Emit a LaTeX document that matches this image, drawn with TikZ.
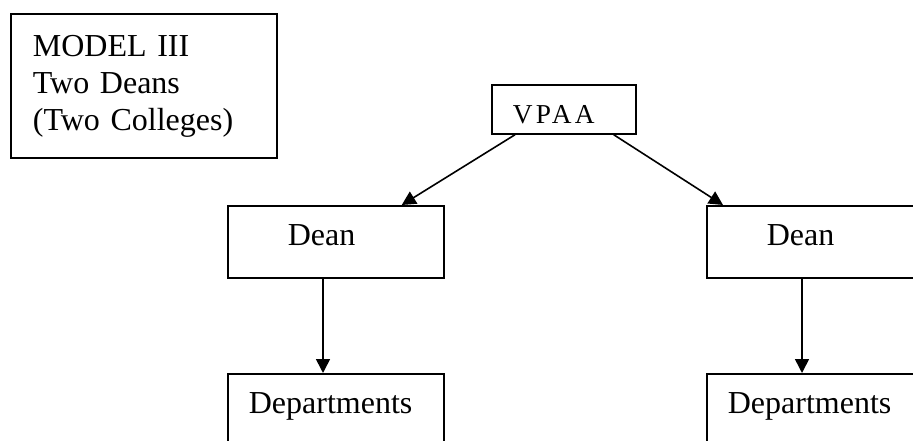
\documentclass[tikz,border=0pt]{standalone}
\usepackage{fontspec}
\setmainfont{Liberation Serif}
\usetikzlibrary{arrows.meta}

\tikzset{
  orgbox/.style={draw, line width=1.3pt, anchor=north west, inner ysep=0pt, align=left,
    font=\fontsize{24pt}{27.75pt}\selectfont},
  deanbox/.style={orgbox, minimum width=162pt, minimum height=54pt, inner xsep=45pt,
    text width=72pt, text height=15pt, text depth=9pt},
  deptbox/.style={orgbox, minimum width=162pt, minimum height=54pt, inner xsep=15.75pt,
    text width=130.5pt, text height=15pt, text depth=9pt},
  orgarrow/.style={line width=1.2pt, -{Triangle[length=10.5pt,width=10.5pt]}}
}

\begin{document}
\begin{tikzpicture}[x=0.75pt,y=0.75pt,yscale=-1,xscale=1]
    \useasboundingbox (0,0) rectangle (913,441);
    \clip (0,0) rectangle (913,441);

    %Shape: Rectangle [title]
    \node [orgbox, minimum width=199.5pt, minimum height=108pt, inner xsep=16.5pt, text width=166.5pt] (model) at (10,13) {MODEL III\\Two Deans\\(Two Colleges)};
    %Shape: Rectangle [top]
    \node [orgbox, minimum width=108pt, minimum height=36.75pt, inner xsep=15.75pt, text width=76.5pt,
      text height=21.75pt, text depth=0pt, font=\fontsize{20.5pt}{24pt}\selectfont\addfontfeature{LetterSpace=12}] (vpaa) at (491,84) {VPAA};
    %Shape: Rectangle [deans]
    \node [deanbox] (deanL) at (227,205) {Dean};
    \node [deanbox] (deanR) at (706,205) {Dean};
    %Shape: Rectangle [departments]
    \node [deptbox] (deptL) at (227,373) {Departments};
    \node [deptbox] (deptR) at (706,373) {Departments};

    %Straight Lines
    \draw [orgarrow] ([xshift=18pt]vpaa.south west) -- ([xshift=-32.25pt]deanL.north east);
    \draw [orgarrow] ([xshift=-17.25pt]vpaa.south east) -- ([xshift=12.75pt]deanR.north west);
    \draw [orgarrow] ([xshift=72pt]deanL.south west) -- ([xshift=72pt]deptL.north west);
    \draw [orgarrow] ([xshift=72pt]deanR.south west) -- ([xshift=72pt]deptR.north west);

\end{tikzpicture}
\end{document}
